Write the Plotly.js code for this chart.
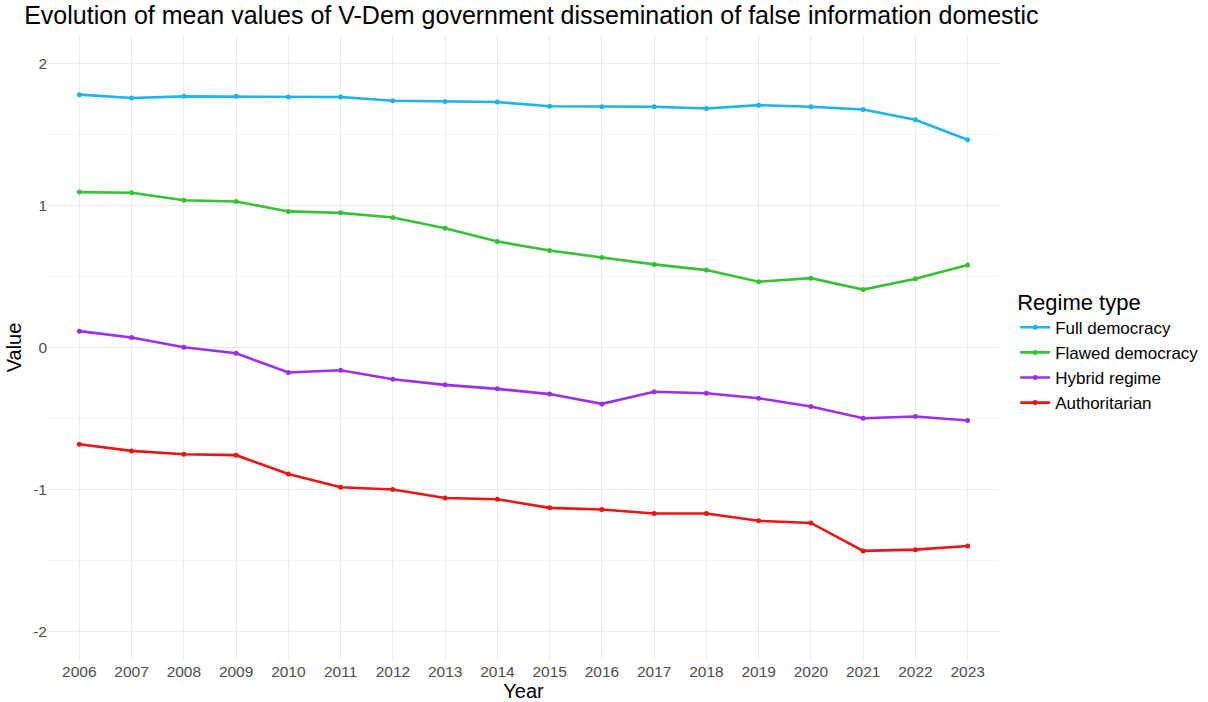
<!DOCTYPE html>
<html>
<head>
<meta charset="utf-8">
<script src="https://cdn.plot.ly/plotly-3.0.1.min.js"></script>
<style>html,body{margin:0;padding:0;background:#fff;}#chart{width:1208px;height:702px;}</style>
</head>
<body>
<div id="chart"></div>
<script>
const years = ["2006","2007","2008","2009","2010","2011","2012","2013","2014","2015","2016","2017","2018","2019","2020","2021","2022","2023"];
const fullDemocracy = [1.78,1.756,1.768,1.768,1.763,1.763,1.737,1.732,1.728,1.698,1.695,1.695,1.683,1.706,1.695,1.676,1.603,1.463];
const flawedDemocracy = [1.094,1.089,1.037,1.028,0.958,0.948,0.915,0.840,0.746,0.683,0.634,0.585,0.545,0.463,0.488,0.408,0.484,0.580];
const hybridRegime = [0.115,0.070,0.002,-0.040,-0.176,-0.160,-0.223,-0.263,-0.291,-0.328,-0.397,-0.312,-0.322,-0.357,-0.415,-0.498,-0.486,-0.514];
const authoritarian = [-0.681,-0.728,-0.751,-0.758,-0.890,-0.984,-1.000,-1.059,-1.068,-1.129,-1.141,-1.169,-1.169,-1.220,-1.235,-1.432,-1.423,-1.397];
const seriesNames = ["Full democracy","Flawed democracy","Hybrid regime","Authoritarian"];
const seriesColors = ["#1cb4ec","#36c236","#9a30ec","#ee1414"];
const seriesValues = [fullDemocracy, flawedDemocracy, hybridRegime, authoritarian];

const traces = seriesValues.map((v, i) => ({
  x: years, y: v, type: "scatter", mode: "lines+markers", name: seriesNames[i],
  line: {color: seriesColors[i], width: 2.6},
  marker: {color: seriesColors[i], size: 5}
}));

const tickFont = {family: "Liberation Sans, Arial, sans-serif", size: 15.5, color: "#4d4d4d"};
const layout = {
  width: 1208, height: 702,
  paper_bgcolor: "#fff", plot_bgcolor: "#fff",
  margin: {l: 48, r: 209, t: 35, b: 42, autoexpand: false},
  font: {family: "Liberation Sans, Arial, sans-serif"},
  title: {text: "Evolution of mean values of V-Dem government dissemination of false information domestic",
          x: 0.02, xanchor: "left", y: 0.978, yanchor: "middle", font: {size: 25, color: "#000"}},
  xaxis: {type: "category", range: [-0.6, 17.6], showgrid: true, gridcolor: "#ebebeb", gridwidth: 1,
          zeroline: false, showline: false, ticks: "", tickfont: tickFont, ticklen: 0,
          title: {text: "Year", font: {size: 20, color: "#000"}, standoff: 2}},
  yaxis: {range: [-2.2, 2.2], tickvals: [-2,-1,0,1,2], ticktext: ["-2","-1","0","1","2"],
          showgrid: true, gridcolor: "#ebebeb", gridwidth: 1, zeroline: false, showline: false,
          ticks: "", tickfont: tickFont,
          minor: {tickvals: [-1.5,-0.5,0.5,1.5], showgrid: true, gridcolor: "#f4f4f4", gridwidth: 1},
          title: {text: "Value", font: {size: 20, color: "#000"}, standoff: 6}},
  legend: {x: 1.017, xanchor: "left", y: 0.495, yanchor: "middle", bgcolor: "rgba(0,0,0,0)",
           title: {text: "Regime type", font: {size: 22, color: "#000"}},
           font: {size: 17, color: "#000"}, tracegroupgap: 0, itemwidth: 30},
  showlegend: true
};
Plotly.newPlot("chart", traces, layout, {displayModeBar: false, staticPlot: true});
</script>
</body>
</html>
